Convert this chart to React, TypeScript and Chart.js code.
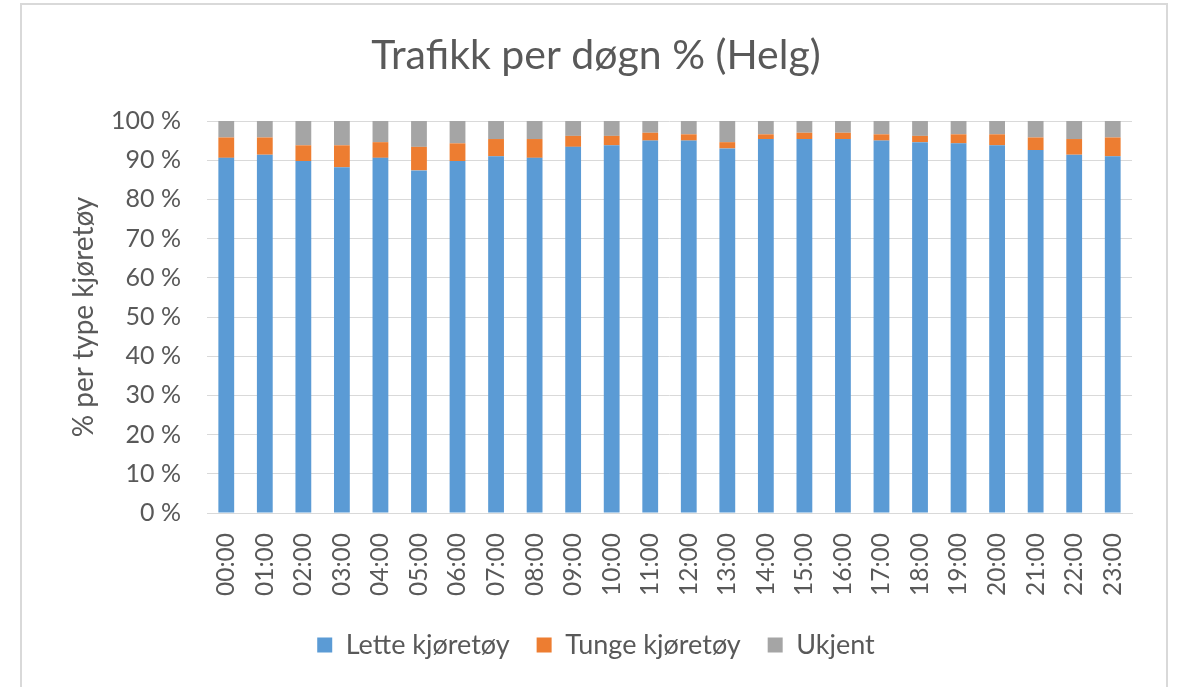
import React, { useEffect, useRef } from "react";
import { Chart, registerables } from "chart.js";

Chart.register(...registerables);

const hours = [
  "00:00", "01:00", "02:00", "03:00", "04:00", "05:00", "06:00", "07:00",
  "08:00", "09:00", "10:00", "11:00", "12:00", "13:00", "14:00", "15:00",
  "16:00", "17:00", "18:00", "19:00", "20:00", "21:00", "22:00", "23:00",
];

const lette = [
  90.6, 91.4, 89.8, 88.2, 90.6, 87.4, 89.8, 91.0, 90.6, 93.4, 93.8, 95.0,
  95.0, 93.0, 95.4, 95.4, 95.4, 95.0, 94.6, 94.3, 93.8, 92.6, 91.4, 91.0,
];

const tunge = [
  5.2, 4.4, 4.0, 5.6, 4.0, 6.0, 4.5, 4.4, 4.8, 2.8, 2.4, 2.0,
  1.6, 1.6, 1.2, 1.6, 1.6, 1.6, 1.6, 2.3, 2.8, 3.2, 4.0, 4.8,
];

const ukjent = [
  4.2, 4.2, 6.2, 6.2, 5.4, 6.6, 5.7, 4.6, 4.6, 3.8, 3.8, 3.0,
  3.4, 5.4, 3.4, 3.0, 3.0, 3.4, 3.8, 3.4, 3.4, 4.2, 4.6, 4.2,
];

const yTicks = [0, 10, 20, 30, 40, 50, 60, 70, 80, 90, 100];

const FONT = "Lato";
const TEXT = "#595959";

export default function App() {
  const ref = useRef<HTMLCanvasElement | null>(null);

  useEffect(() => {
    if (!ref.current) return;
    const chart = new Chart(ref.current, {
      type: "bar",
      data: {
        labels: hours,
        datasets: [
          { label: "Lette kjøretøy", data: lette, backgroundColor: "#5B9BD5", borderWidth: 0 },
          { label: "Tunge kjøretøy", data: tunge, backgroundColor: "#ED7D31", borderWidth: 0 },
          { label: "Ukjent", data: ukjent, backgroundColor: "#A5A5A5", borderWidth: 0 },
        ],
      },
      options: {
        responsive: false,
        animation: false,
        layout: { padding: { left: 60, right: 48, top: 0, bottom: 18.5 } },
        datasets: { bar: { barPercentage: 0.41, categoryPercentage: 1 } },
        plugins: {
          title: {
            display: true,
            text: "Trafikk per døgn % (Helg)",
            color: TEXT,
            font: { family: FONT, size: 41, weight: "normal" },
            padding: { top: 31.4, bottom: 40.4 },
          },
          legend: {
            position: "bottom",
            labels: {
              color: TEXT,
              font: { family: FONT, size: 27 },
              boxWidth: 15,
              boxHeight: 15,
              padding: 27,
            },
          },
          tooltip: { enabled: false },
        },
        scales: {
          x: {
            stacked: true,
            grid: { display: false, drawTicks: false },
            border: { color: "#D9D9D9", width: 1 },
            ticks: {
              color: TEXT,
              font: { family: FONT, size: 24.5 },
              minRotation: 90,
              maxRotation: 90,
              autoSkip: false,
              padding: 20,
            },
            afterFit: (s: any) => { s.height = 91.5; },
          },
          y: {
            stacked: true,
            min: 0,
            max: 100,
            grid: { color: "#D9D9D9", lineWidth: 1, drawTicks: false },
            border: { display: false },
            afterBuildTicks: (s: any) => { s.ticks = yTicks.map((v) => ({ value: v })); },
            ticks: {
              color: TEXT,
              font: { family: FONT, size: 25 },
              padding: 26,
              callback: (v: any) => v + " %",
            },
            title: {
              display: true,
              text: "% per type kjøretøy",
              color: TEXT,
              font: { family: FONT, size: 28 },
              padding: { top: 7, bottom: 0 },
            },
            afterFit: (s: any) => { s.width = 147; },
          },
        },
      },
    });
    return () => chart.destroy();
  }, []);

  return (
    <div style={{ position: "fixed", left: 0, top: 0, width: 1180, height: 687, overflow: "hidden", background: "#fff" }}>
      <div style={{ position: "absolute", left: 20, top: 3, width: 1148, height: 800, boxSizing: "border-box", border: "2px solid #D9D9D9" }} />
      <canvas ref={ref} width={1180} height={687} style={{ position: "absolute", left: 0, top: 0, width: 1180, height: 687 }} />
    </div>
  );
}
